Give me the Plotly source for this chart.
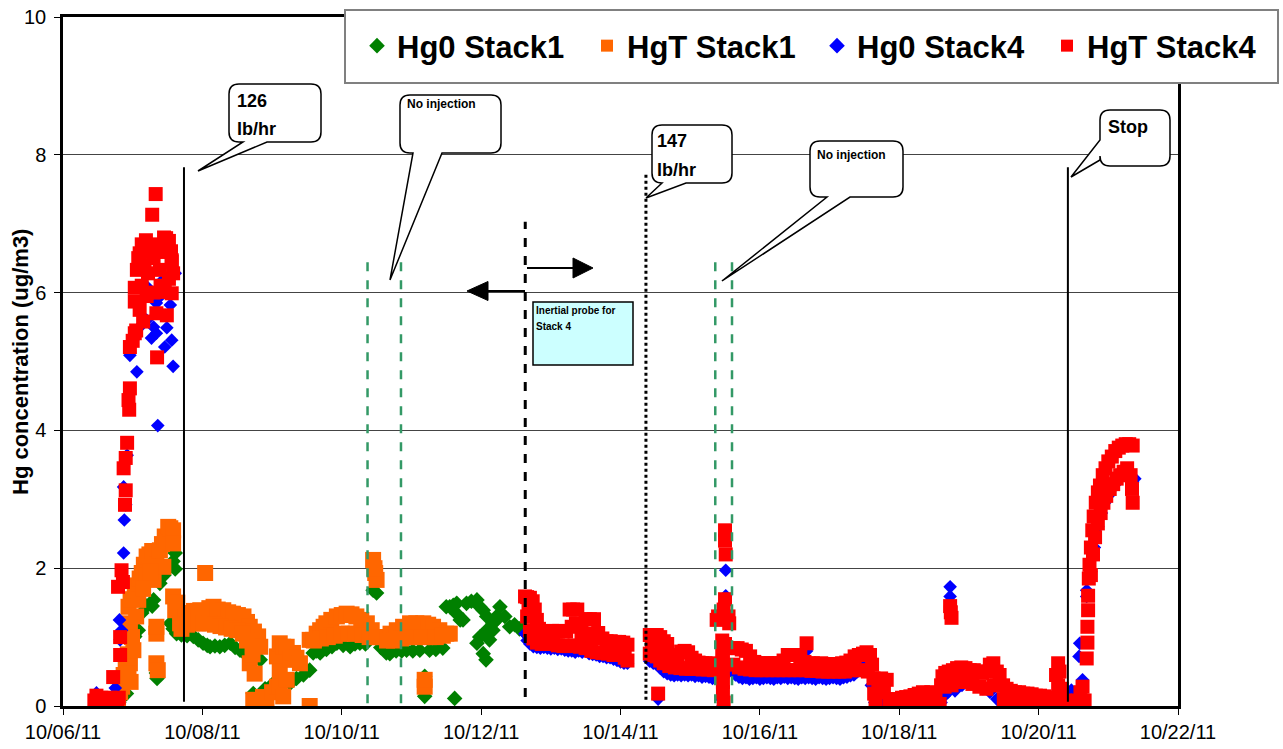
import plotly.graph_objects as go
import pandas as pd

# ---------------- DATA (day of October 2011, concentration ug/m3) ----------------
hg0_stack1 = [
    (6.80, 0.05), (6.86, 0.38), (6.91, 0.18), (6.96, 0.96), (7.00, 0.98), (7.03, 1.01), (7.08, 1.10),
    (7.13, 1.35), (7.20, 1.45), (7.28, 1.45), (7.30, 1.54), (7.34, 0.48), (7.35, 0.40), (7.39, 1.78),
    (7.45, 1.90), (7.54, 2.02), (7.58, 2.10), (7.61, 1.99), (7.61, 2.22),
    (7.54, 1.20), (7.58, 1.12), (7.63, 1.05), (7.70, 1.03), (7.78, 1.02), (7.87, 1.01), (7.94, 0.96),
    (8.01, 0.91), (8.07, 0.88), (8.11, 0.86), (8.18, 0.87), (8.25, 0.86), (8.32, 0.88), (8.40, 0.91),
    (8.47, 0.85), (8.54, 0.81), (8.62, 0.75), (8.68, 0.70), (8.73, 0.67), (8.83, 0.67), (8.73, 0.18),
    (8.90, 0.25), (9.02, 0.33), (9.14, 0.30), (9.26, 0.33), (9.35, 0.40), (9.45, 0.45), (9.54, 0.52),
    (9.59, 0.77), (9.64, 0.80), (9.69, 0.77), (9.78, 0.82), (9.86, 0.86), (9.93, 0.91), (10.02, 0.88),
    (10.12, 0.86), (10.19, 0.90), (10.26, 0.91), (10.34, 0.90), (10.45, 1.68), (10.50, 1.64),
    (10.56, 0.85), (10.64, 0.77), (10.69, 0.76), (10.78, 0.80), (10.86, 0.80), (10.93, 0.81),
    (11.02, 0.80), (11.12, 0.81), (11.19, 0.14), (11.19, 0.43), (11.26, 0.81), (11.35, 0.82),
    (11.45, 0.84), (11.62, 0.11),
    (11.50, 1.44), (11.55, 1.44), (11.60, 1.46), (11.65, 1.49), (11.65, 1.34), (11.70, 1.25),
    (11.74, 1.25), (11.79, 1.49), (11.86, 1.52), (11.94, 1.54), (11.98, 1.44), (11.98, 1.00),
    (11.94, 0.91), (12.03, 1.39), (12.03, 0.76), (12.07, 0.67), (12.08, 1.10), (12.08, 1.30),
    (12.12, 0.96), (12.17, 1.20), (12.17, 1.10), (12.22, 1.25), (12.22, 1.30), (12.27, 1.44),
    (12.34, 1.30), (12.41, 1.15), (12.48, 1.18), (12.55, 1.12), (12.60, 1.10),
]

hgt_stack1 = [
    (6.79, 0.09), (6.82, 0.20), (6.85, 0.28), (6.87, 0.45), (6.90, 0.60), (6.93, 0.75), (6.96, 0.62),
    (6.97, 0.35), (6.94, 0.47), (7.01, 0.81), (6.96, 1.20), (6.99, 1.00), (6.94, 1.44), (6.97, 1.55),
    (7.03, 1.68), (7.06, 1.75), (7.08, 1.54), (7.10, 1.85), (7.13, 1.93), (7.16, 2.05), (7.20, 2.17),
    (7.24, 2.20), (7.28, 2.25), (7.30, 1.83), (7.34, 2.05), (7.39, 2.26), (7.42, 2.35), (7.44, 2.02),
    (7.46, 2.46), (7.48, 2.40), (7.51, 2.60), (7.54, 2.58), (7.58, 2.55), (7.58, 2.36), (7.34, 1.05),
    (7.34, 1.15), (7.34, 0.62), (7.36, 0.52), (7.20, 1.90), (7.25, 1.95), (7.15, 1.70), (7.05, 1.30),
    (7.58, 1.59), (7.61, 1.39), (7.64, 1.50), (7.68, 1.20), (7.72, 1.25), (7.76, 1.30), (7.82, 1.35),
    (7.88, 1.38), (7.94, 1.38), (7.97, 1.39), (8.04, 1.93), (8.10, 1.42), (8.16, 1.44), (8.22, 1.40),
    (8.30, 1.39), (8.37, 1.36), (8.44, 1.34), (8.51, 1.32), (8.59, 1.30), (8.64, 1.22), (8.68, 1.15),
    (8.74, 1.08), (8.80, 1.01), (8.83, 0.86),
    (7.70, 1.12), (7.78, 1.18), (7.86, 1.20), (7.94, 1.20), (8.02, 1.20), (8.10, 1.20), (8.18, 1.18),
    (8.26, 1.16), (8.34, 1.14), (8.42, 1.12), (8.50, 1.10), (8.58, 1.05), (8.64, 0.95),
    (8.68, 0.62), (8.75, 0.47), (8.72, 0.75), (8.73, 0.09), (8.78, 0.05), (8.84, 0.08), (8.92, 0.09),
    (8.87, 0.13), (9.00, 0.20), (9.07, 0.28), (9.07, 0.72), (9.11, 0.91), (9.11, 0.50), (9.11, 0.28),
    (9.16, 0.86), (9.16, 0.14), (9.21, 0.86), (9.21, 0.38), (9.26, 0.67), (9.30, 0.77), (9.35, 0.70),
    (9.40, 0.62), (9.54, 0.00), (9.54, 0.96), (9.59, 0.96), (9.64, 1.05), (9.69, 1.10), (9.74, 1.15),
    (9.78, 1.20), (9.85, 1.25), (9.93, 1.30), (10.00, 1.32), (10.07, 1.34), (10.14, 1.33),
    (10.21, 1.30), (10.28, 1.25), (10.36, 1.20), (10.43, 1.10),
    (9.60, 0.95), (9.70, 0.98), (9.80, 1.00), (9.90, 1.02), (10.00, 1.05), (10.10, 1.05),
    (10.20, 1.05), (10.30, 1.03), (10.40, 1.00),
    (10.45, 2.12), (10.48, 1.93), (10.50, 1.83), (10.47, 2.00),
    (10.50, 1.00), (10.57, 1.00), (10.64, 1.00), (10.70, 1.05), (10.79, 1.10), (10.88, 1.15),
    (10.98, 1.20), (11.07, 1.20), (11.17, 1.20), (11.24, 1.18), (11.31, 1.15), (11.40, 1.10),
    (11.50, 1.05), (11.55, 1.05), (11.19, 0.28), (11.19, 0.38),
    (10.65, 0.95), (10.75, 0.95), (10.85, 0.98), (10.95, 1.00), (11.05, 1.00), (11.15, 1.00),
    (11.25, 1.00), (11.35, 1.00), (11.45, 1.02),
]

hg0_stack4 = [
    (6.48, 0.19), (6.52, 0.05), (6.60, 0.08), (6.70, 0.10), (6.75, 0.26), (6.77, 0.15), (6.81, 1.25),
    (6.82, 0.96), (6.84, 1.10), (6.87, 2.22), (6.88, 2.70), (6.87, 3.18), (6.90, 2.92), (6.92, 3.64),
    (6.96, 5.09), (7.06, 4.85), (7.00, 5.30), (7.10, 5.50), (7.22, 6.07), (7.27, 5.34), (7.34, 5.41),
    (7.34, 5.85), (7.36, 4.07), (7.39, 5.94), (7.46, 5.21), (7.49, 5.49), (7.54, 5.82), (7.56, 5.31),
    (7.58, 4.93), (7.61, 6.28), (7.30, 5.50), (7.20, 5.60), (7.15, 6.30), (7.45, 6.20),
    (12.63, 1.05), (12.66, 0.95), (12.70, 0.90), (12.75, 0.86), (12.80, 0.85), (12.85, 0.84),
    (12.90, 0.85), (12.95, 0.84), (13.00, 0.83), (13.05, 0.84), (13.10, 0.82), (13.15, 0.83),
    (13.20, 0.81), (13.25, 0.80), (13.30, 0.80), (13.35, 0.78), (13.40, 0.80), (13.45, 0.78),
    (13.50, 0.80), (13.55, 0.76), (13.60, 0.75), (13.65, 0.74), (13.70, 0.72), (13.75, 0.72),
    (13.80, 0.70), (13.85, 0.70), (13.90, 0.68), (13.95, 0.66), (14.00, 0.64), (14.05, 0.62),
    (14.10, 0.62),
    (14.42, 0.65), (14.47, 0.62), (14.52, 0.60), (14.54, 0.10), (14.57, 0.55), (14.62, 0.50),
    (14.67, 0.47), (14.72, 0.45), (14.77, 0.44), (14.82, 0.45), (14.87, 0.44), (14.92, 0.45),
    (14.97, 0.44), (15.02, 0.45), (15.07, 0.43), (15.12, 0.44), (15.17, 0.42), (15.22, 0.43),
    (15.27, 0.42), (15.32, 0.40), (15.51, 1.97), (15.51, 1.60), (15.47, 0.00), (15.45, 0.10),
    (15.60, 0.50), (15.65, 0.45), (15.70, 0.42), (15.75, 0.40), (15.80, 0.41), (15.85, 0.39),
    (15.90, 0.40), (15.95, 0.41), (16.00, 0.39), (16.05, 0.40), (16.10, 0.41), (16.15, 0.40),
    (16.20, 0.39), (16.25, 0.41), (16.30, 0.40), (16.35, 0.42), (16.40, 0.40), (16.45, 0.41),
    (16.50, 0.40), (16.55, 0.39), (16.60, 0.41), (16.65, 0.40), (16.67, 0.80), (16.70, 0.41),
    (16.75, 0.40), (16.80, 0.39), (16.85, 0.41), (16.90, 0.40), (16.95, 0.39), (17.00, 0.40),
    (17.05, 0.41), (17.10, 0.40), (17.15, 0.39), (17.20, 0.41), (17.25, 0.42), (17.30, 0.44),
    (17.35, 0.45), (17.40, 0.50), (17.45, 0.55), (17.50, 0.60), (17.55, 0.58), (17.60, 0.30),
    (17.65, 0.05), (17.70, 0.02), (17.80, 0.05), (17.90, 0.05), (18.00, 0.08), (18.10, 0.08),
    (18.20, 0.10), (18.30, 0.10), (18.40, 0.12), (18.50, 0.08), (18.60, 0.05), (18.65, 0.15),
    (18.73, 1.73), (18.73, 1.59), (18.70, 0.20), (18.80, 0.22), (18.90, 0.30), (19.00, 0.35),
    (19.10, 0.30), (19.20, 0.25), (19.30, 0.20), (19.40, 0.10), (19.50, 0.02), (19.55, 0.00),
    (19.65, 0.00), (19.75, 0.02), (19.85, 0.05), (19.95, 0.06), (20.05, 0.06), (20.15, 0.06),
    (20.25, 0.10), (20.30, 0.32), (20.35, 0.12), (20.40, 0.14), (20.47, 0.23), (20.52, 0.20),
    (20.58, 0.72), (20.59, 0.91), (20.63, 0.38), (20.69, 1.68), (20.69, 1.59),
    (20.75, 1.95), (20.80, 2.30), (20.85, 2.60), (20.90, 2.80), (20.95, 2.95), (21.00, 3.05),
    (21.05, 3.15), (21.10, 3.22), (21.15, 3.30), (21.20, 3.35), (21.25, 3.40), (21.30, 3.35),
    (21.35, 3.25), (21.38, 3.30),
]

hgt_stack4 = [
    (6.45, 0.08), (6.48, 0.15), (6.52, 0.05), (6.55, 0.12), (6.58, 0.03), (6.62, 0.10), (6.65, 0.05),
    (6.68, 0.12), (6.72, 0.04), (6.72, 0.42), (6.75, 0.10), (6.78, 0.05), (6.80, 0.12), (6.82, 0.74),
    (6.82, 1.00), (6.79, 1.73), (6.84, 1.97), (6.86, 1.80), (6.87, 3.45), (6.89, 2.92), (6.90, 3.13),
    (6.90, 3.60), (6.92, 3.82), (6.94, 4.44), (6.95, 4.30), (6.96, 4.61), (6.96, 5.21), (7.00, 5.30),
    (7.03, 5.41), (7.05, 5.45), (7.03, 5.87), (7.03, 6.07), (7.06, 6.33), (7.10, 5.75), (7.10, 6.57),
    (7.15, 5.58), (7.19, 6.76), (7.22, 6.28), (7.28, 7.13), (7.33, 7.43), (7.34, 5.70), (7.35, 5.06),
    (7.39, 6.33), (7.46, 6.01), (7.48, 6.79), (7.49, 6.59), (7.49, 5.67), (7.56, 6.47), (7.56, 5.99),
    (7.58, 6.28), (7.08, 6.50), (7.13, 6.70), (7.17, 6.40), (7.25, 6.60), (7.30, 6.50), (7.36, 6.70),
    (7.42, 6.60), (7.45, 6.80), (7.52, 6.75), (7.55, 6.60), (7.40, 6.10), (7.30, 6.00), (7.20, 5.95),
    (7.13, 6.10), (7.52, 6.20), (7.56, 6.45),
    (12.63, 1.59), (12.66, 1.58), (12.70, 1.57), (12.74, 1.52), (12.77, 1.40), (12.80, 1.25),
    (12.83, 1.12), (12.87, 1.08), (12.92, 1.08), (12.97, 1.08), (13.02, 1.09), (13.07, 1.08),
    (13.12, 1.09), (13.17, 1.08), (13.22, 1.08), (13.27, 1.40), (13.32, 1.40), (13.38, 1.40),
    (13.44, 1.06), (13.50, 1.26), (13.56, 1.26), (13.62, 1.26), (13.68, 1.06), (13.74, 0.98),
    (13.80, 0.94), (13.86, 0.94), (13.92, 0.93), (13.98, 0.93), (14.04, 0.92), (14.10, 0.89),
    (12.66, 1.30), (12.70, 1.10), (12.75, 0.98), (12.80, 0.92), (12.87, 0.90), (12.95, 0.90),
    (13.03, 0.90), (13.10, 0.88), (13.18, 0.87), (13.26, 0.87), (13.34, 0.88), (13.42, 0.86),
    (13.50, 0.84), (13.58, 0.80), (13.66, 0.78), (13.74, 0.77), (13.82, 0.76), (13.90, 0.74),
    (13.98, 0.74), (14.06, 0.70), (14.10, 0.66), (13.30, 1.15), (13.36, 1.20), (13.52, 1.05),
    (13.60, 1.00), (12.72, 1.30), (12.68, 1.45),
    (14.42, 1.03), (14.47, 1.03), (14.52, 1.03), (14.57, 1.00), (14.62, 0.94), (14.67, 0.90),
    (14.72, 0.74), (14.77, 0.74), (14.82, 0.72), (14.87, 0.79), (14.92, 0.80), (14.97, 0.78),
    (15.02, 0.70), (15.07, 0.66), (15.12, 0.63), (15.17, 0.62), (15.22, 0.62), (15.27, 0.62),
    (15.32, 0.60), (14.42, 0.76), (14.47, 0.74), (14.52, 0.72), (14.57, 0.66), (14.62, 0.62),
    (14.70, 0.58), (14.78, 0.56), (14.86, 0.55), (14.94, 0.54), (15.02, 0.54), (15.10, 0.54),
    (15.18, 0.53), (15.26, 0.53), (15.34, 0.52), (14.45, 0.90), (14.55, 0.85), (14.65, 0.78),
    (14.54, 0.18),
    (15.50, 2.55), (15.50, 2.40), (15.51, 2.20), (15.50, 1.55), (15.48, 1.40), (15.38, 1.25),
    (15.40, 1.30), (15.56, 1.20), (15.55, 1.30), (15.46, 0.95), (15.46, 0.80), (15.47, 0.65),
    (15.47, 0.50), (15.47, 0.35), (15.47, 0.20), (15.48, 0.05), (15.50, 0.90),
    (15.62, 0.84), (15.68, 0.84), (15.74, 0.82), (15.80, 0.80), (15.86, 0.72), (15.92, 0.64),
    (15.98, 0.62), (16.04, 0.62), (16.10, 0.62), (16.16, 0.62), (16.22, 0.62), (16.28, 0.62),
    (16.34, 0.66), (16.40, 0.74), (16.46, 0.74), (16.52, 0.74), (16.58, 0.72), (16.64, 0.64),
    (16.67, 0.91), (16.70, 0.62), (16.76, 0.62), (16.82, 0.61), (16.88, 0.62), (16.94, 0.61),
    (17.00, 0.61), (17.06, 0.61), (17.12, 0.61), (17.18, 0.62), (17.24, 0.63), (17.30, 0.66),
    (15.62, 0.60), (15.70, 0.56), (15.78, 0.54), (15.86, 0.53), (15.94, 0.52), (16.02, 0.52),
    (16.10, 0.52), (16.18, 0.52), (16.26, 0.52), (16.34, 0.52), (16.42, 0.52), (16.50, 0.52),
    (16.58, 0.52), (16.66, 0.52), (16.74, 0.51), (16.82, 0.51), (16.90, 0.50), (16.98, 0.50),
    (17.06, 0.50), (17.14, 0.50), (17.22, 0.50), (17.30, 0.52),
    (17.36, 0.72), (17.42, 0.74), (17.48, 0.76), (17.53, 0.78), (17.58, 0.74), (17.61, 0.60),
    (17.63, 0.40), (17.64, 0.18), (17.66, 0.02), (17.70, 0.30), (17.74, 0.40), (17.78, 0.20),
    (17.82, 0.38), (17.86, 0.10), (17.92, 0.08), (17.98, 0.10), (18.04, 0.12), (18.10, 0.13),
    (18.16, 0.14), (18.22, 0.16), (18.28, 0.18), (18.34, 0.20), (18.40, 0.19), (18.46, 0.20),
    (18.52, 0.12), (18.58, 0.03), (18.60, 0.30), (18.62, 0.43), (18.66, 0.48), (18.71, 0.50),
    (18.73, 1.45), (18.74, 1.36), (18.75, 1.28), (18.77, 0.52), (18.83, 0.55), (18.89, 0.56),
    (18.95, 0.55), (19.01, 0.52), (19.07, 0.52), (19.13, 0.50), (19.19, 0.48), (19.25, 0.50),
    (19.30, 0.60), (19.35, 0.62), (19.40, 0.50), (19.44, 0.45), (19.49, 0.30), (19.54, 0.25),
    (19.60, 0.22), (19.66, 0.20), (19.72, 0.20), (19.78, 0.18), (19.84, 0.18), (19.90, 0.17),
    (19.96, 0.15), (20.02, 0.15), (20.08, 0.14), (20.14, 0.12), (20.20, 0.12), (20.25, 0.45),
    (20.28, 0.62), (20.30, 0.50), (20.33, 0.25), (20.38, 0.08), (20.44, 0.05), (20.50, 0.06),
    (20.56, 0.08), (20.60, 0.20), (20.63, 0.28), (20.66, 0.08),
    (17.35, 0.52), (17.45, 0.52), (17.55, 0.50), (18.65, 0.28), (18.75, 0.30), (18.85, 0.35),
    (18.95, 0.35), (19.05, 0.32), (19.15, 0.28), (19.25, 0.25), (19.35, 0.30), (19.50, 0.10),
    (19.60, 0.08), (19.70, 0.07), (19.80, 0.07), (19.90, 0.07), (20.00, 0.07), (20.10, 0.06),
    (20.20, 0.06), (20.28, 0.30), (17.95, 0.03), (18.10, 0.03), (18.25, 0.04), (18.40, 0.04),
    (20.69, 0.69), (20.70, 0.92), (20.70, 1.15), (20.71, 1.39), (20.71, 1.60), (20.72, 1.85),
    (20.73, 2.05), (20.75, 2.30), (20.77, 2.55), (20.79, 2.75), (20.82, 2.95), (20.85, 3.10),
    (20.88, 3.20), (20.92, 3.35), (20.96, 3.45), (21.00, 3.55), (21.05, 3.62), (21.10, 3.70),
    (21.15, 3.75), (21.20, 3.78), (21.25, 3.80), (21.30, 3.80), (21.35, 3.78),
    (20.75, 1.90), (20.78, 2.20), (20.81, 2.45), (20.85, 2.65), (20.89, 2.80), (20.93, 2.95),
    (20.97, 3.05), (21.02, 3.15), (21.07, 3.22), (21.12, 3.30), (21.17, 3.35), (21.22, 3.40),
    (21.27, 3.45), (21.32, 3.35), (21.34, 3.15), (21.35, 2.95),
]

series_names = ["Hg0 Stack1", "HgT Stack1", "Hg0 Stack4", "HgT Stack4"]
series_colors = ["#008000", "#FF6600", "#0000FF", "#FF0000"]
series_symbols = ["diamond", "square", "diamond", "square"]
series_sizes = [12, 16, 10.5, 14]

x_tick_days = [6, 8, 10, 12, 14, 16, 18, 20, 22]
x_tick_labels = ["10/06/11", "10/08/11", "10/10/11", "10/12/11", "10/14/11",
                 "10/16/11", "10/18/11", "10/20/11", "10/22/11"]
y_ticks = [0, 2, 4, 6, 8, 10]
y_title = "Hg concentration (ug/m3)"

# event markers (day of October)
event_126 = 7.736
event_stop = 20.42
event_probe = 12.633
event_147 = 14.365
noinj_1 = (10.37, 10.85)
noinj_2 = (15.36, 15.60)

# ---------------- helpers ----------------
BASE = pd.Timestamp("2011-10-01")


def dt(d):
    return BASE + pd.Timedelta(days=d - 1)


L, R, T, B = 63, 1178, 17, 706


def px(x):
    return (x - L) / (R - L)


def py(y):
    return (B - y) / (B - T)


def P(x, y):
    return f"{px(x):.5f},{py(y):.5f}"


def callout(x0, y0, x1, y1, r, tail, side="bottom"):
    s = f"M {P(x0 + r, y0)} L {P(x1 - r, y0)} Q {P(x1, y0)} {P(x1, y0 + r)} "
    s += f"L {P(x1, y1 - r)} Q {P(x1, y1)} {P(x1 - r, y1)} "
    if side == "bottom":
        (xa, xb, tx, ty) = tail
        s += f"L {P(xb, y1)} L {P(tx, ty)} L {P(xa, y1)} "
    s += f"L {P(x0 + r, y1)} Q {P(x0, y1)} {P(x0, y1 - r)} "
    if side == "left":
        (ya, yb, tx, ty) = tail
        s += f"L {P(x0, yb)} L {P(tx, ty)} L {P(x0, ya)} "
    s += f"L {P(x0, y0 + r)} Q {P(x0, y0)} {P(x0 + r, y0)} Z"
    return dict(type="path", xref="paper", yref="paper", path=s,
                line=dict(color="black", width=1.5), fillcolor="white", layer="above")


FONT = "Arial, Liberation Sans, sans-serif"

fig = go.Figure()
for data, name, col, sym, sz in zip([hg0_stack1, hgt_stack1, hg0_stack4, hgt_stack4],
                                    series_names, series_colors, series_symbols, series_sizes):
    xs = [dt(d) for d, v in data]
    ys = [v for d, v in data]
    fig.add_trace(go.Scatter(
        x=xs, y=ys, mode="markers", name=name,
        marker=dict(symbol=sym, color=col, size=sz, line=dict(width=0)),
    ))

shapes = []
shapes.append(dict(type="rect", xref="paper", yref="paper",
                   x0=px(345), x1=px(1278), y0=py(83), y1=py(10),
                   line=dict(color="#808080", width=2), fillcolor="white", layer="above"))


def vline(d, y0, y1, color, width, dash):
    return dict(type="line", xref="x", yref="y", x0=dt(d), x1=dt(d), y0=y0, y1=y1,
                line=dict(color=color, width=width, dash=dash), layer="above")


shapes.append(vline(event_126, 0.06, 7.82, "black", 2, "solid"))
shapes.append(vline(event_stop, 0.06, 7.82, "black", 2, "solid"))
shapes.append(vline(event_probe, 0.13, 7.03, "black", 3, "dash"))
shapes.append(vline(event_147, 0.09, 7.71, "black", 3, "dot"))
for d in noinj_1:
    shapes.append(vline(d, 0.04, 6.44, "#339966", 2.5, "dash"))
for d in noinj_2:
    shapes.append(vline(d, 0.04, 6.52, "#339966", 2.5, "dash"))

shapes.append(dict(type="line", xref="paper", yref="paper", x0=px(527), x1=px(576),
                   y0=py(268), y1=py(268), line=dict(color="black", width=2), layer="above"))
shapes.append(dict(type="path", xref="paper", yref="paper",
                   path=f"M {P(573, 258)} L {P(593, 268)} L {P(573, 278)} Z",
                   fillcolor="black", line=dict(color="black", width=1), layer="above"))
shapes.append(dict(type="line", xref="paper", yref="paper", x0=px(525), x1=px(486),
                   y0=py(291), y1=py(291), line=dict(color="black", width=2), layer="above"))
shapes.append(dict(type="path", xref="paper", yref="paper",
                   path=f"M {P(488, 281.5)} L {P(467, 291)} L {P(488, 300.5)} Z",
                   fillcolor="black", line=dict(color="black", width=1), layer="above"))

shapes.append(dict(type="rect", xref="paper", yref="paper", x0=px(533), x1=px(633),
                   y0=py(365), y1=py(302), fillcolor="#CCFFFF",
                   line=dict(color="black", width=1.5), layer="above"))

shapes.append(callout(229, 84, 321, 142, 10, (243, 267, 198, 171)))
shapes.append(callout(400, 95, 501, 153, 10, (413, 442, 390, 280)))
shapes.append(callout(652, 125, 732, 183, 10, (662, 686, 646, 198)))
shapes.append(callout(810, 141, 903, 197, 10, (827, 850, 722, 281)))
shapes.append(callout(1100, 110, 1170, 166, 10, (140, 160, 1071, 177), side="left"))

annotations = []


def txt(x, y, s, size):
    annotations.append(dict(xref="paper", yref="paper", x=px(x), y=py(y), text=s,
                            showarrow=False, xanchor="left", yanchor="middle",
                            font=dict(family=FONT, size=size, color="black", weight="bold")))


txt(235, 101, "126", 18)
txt(235, 129, "lb/hr", 18)
txt(405, 104, "No injection", 12)
txt(655, 141, "147", 18)
txt(655, 170, "lb/hr", 18)
txt(815, 155, "No injection", 12)
txt(1106, 127, "Stop", 18)
txt(534, 310, "Inertial probe for", 10)
txt(534, 326, "Stack 4", 10)

# y-axis title, centred on the plot area
annotations.append(dict(xref="paper", yref="paper", x=px(20), y=py(362), text=y_title,
                        showarrow=False, textangle=-90, xanchor="center", yanchor="middle",
                        font=dict(family=FONT, size=22, color="black", weight="bold")))

fig.update_layout(
    width=1283, height=749,
    margin=dict(l=L, r=1283 - R, t=T, b=749 - B, autoexpand=False),
    paper_bgcolor="white", plot_bgcolor="white",
    font=dict(family=FONT, color="black"),
    shapes=shapes, annotations=annotations,
    showlegend=True,
    legend=dict(orientation="h", x=px(357), xanchor="left", y=py(46), yanchor="middle",
                bgcolor="rgba(0,0,0,0)", borderwidth=0,
                font=dict(family=FONT, size=31, color="black", weight="bold"),
                entrywidth=185, entrywidthmode="pixels", itemsizing="constant"),
    xaxis=dict(type="date", range=[dt(6), dt(22)],
               tickvals=[dt(d) for d in x_tick_days], ticktext=x_tick_labels,
               tickfont=dict(family=FONT, size=20, color="black"),
               showgrid=False, zeroline=False, showline=True, linecolor="black", linewidth=2.5,
               mirror=True, ticks="outside", ticklen=6, tickwidth=1, tickcolor="black"),
    yaxis=dict(range=[0, 10], tickvals=y_ticks,
               tickfont=dict(family=FONT, size=20, color="black"),
               showgrid=True, gridcolor="#444444", gridwidth=1, zeroline=False,
               showline=True, linecolor="black", linewidth=2.5, mirror=True,
               ticks="outside", ticklen=6, tickwidth=1, tickcolor="black",
               ticklabelstandoff=4),
)

fig.write_html("out.html", config={"displayModeBar": False},
               post_script="document.body.style.margin='0px';")
